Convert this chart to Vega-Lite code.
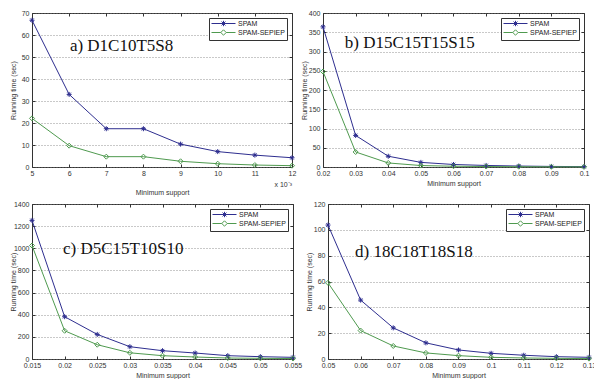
{
  "$schema": "https://vega.github.io/schema/vega-lite/v6.json",
  "padding": {"left": 8, "top": 8, "right": 0, "bottom": 0},
  "background": "white",
  "datasets": {
    "a": [
      {"x": 5, "y": 66.7, "s": "SPAM"}, {"x": 6, "y": 33, "s": "SPAM"}, {"x": 7, "y": 17.4, "s": "SPAM"}, {"x": 8, "y": 17.4, "s": "SPAM"},
      {"x": 9, "y": 10.4, "s": "SPAM"}, {"x": 10, "y": 7, "s": "SPAM"}, {"x": 11, "y": 5.4, "s": "SPAM"}, {"x": 12, "y": 4.2, "s": "SPAM"},
      {"x": 5, "y": 22.1, "s": "SPAM-SEPIEP"}, {"x": 6, "y": 9.7, "s": "SPAM-SEPIEP"}, {"x": 7, "y": 4.7, "s": "SPAM-SEPIEP"}, {"x": 8, "y": 4.7, "s": "SPAM-SEPIEP"},
      {"x": 9, "y": 2.6, "s": "SPAM-SEPIEP"}, {"x": 10, "y": 1.5, "s": "SPAM-SEPIEP"}, {"x": 11, "y": 0.9, "s": "SPAM-SEPIEP"}, {"x": 12, "y": 0.6, "s": "SPAM-SEPIEP"}
    ],
    "b": [
      {"x": 0.02, "y": 364, "s": "SPAM"}, {"x": 0.03, "y": 82, "s": "SPAM"}, {"x": 0.04, "y": 28, "s": "SPAM"}, {"x": 0.05, "y": 12, "s": "SPAM"},
      {"x": 0.06, "y": 6.5, "s": "SPAM"}, {"x": 0.07, "y": 4, "s": "SPAM"}, {"x": 0.08, "y": 2.5, "s": "SPAM"}, {"x": 0.09, "y": 1.5, "s": "SPAM"}, {"x": 0.1, "y": 1, "s": "SPAM"},
      {"x": 0.02, "y": 248, "s": "SPAM-SEPIEP"}, {"x": 0.03, "y": 39, "s": "SPAM-SEPIEP"}, {"x": 0.04, "y": 10.5, "s": "SPAM-SEPIEP"}, {"x": 0.05, "y": 3.8, "s": "SPAM-SEPIEP"},
      {"x": 0.06, "y": 2, "s": "SPAM-SEPIEP"}, {"x": 0.07, "y": 1.2, "s": "SPAM-SEPIEP"}, {"x": 0.08, "y": 0.8, "s": "SPAM-SEPIEP"}, {"x": 0.09, "y": 0.5, "s": "SPAM-SEPIEP"}, {"x": 0.1, "y": 0.4, "s": "SPAM-SEPIEP"}
    ],
    "c": [
      {"x": 0.015, "y": 1252, "s": "SPAM"}, {"x": 0.02, "y": 382, "s": "SPAM"}, {"x": 0.025, "y": 222, "s": "SPAM"}, {"x": 0.03, "y": 111, "s": "SPAM"},
      {"x": 0.035, "y": 75, "s": "SPAM"}, {"x": 0.04, "y": 54, "s": "SPAM"}, {"x": 0.045, "y": 30, "s": "SPAM"}, {"x": 0.05, "y": 21, "s": "SPAM"}, {"x": 0.055, "y": 15, "s": "SPAM"},
      {"x": 0.015, "y": 1025, "s": "SPAM-SEPIEP"}, {"x": 0.02, "y": 255, "s": "SPAM-SEPIEP"}, {"x": 0.025, "y": 129, "s": "SPAM-SEPIEP"}, {"x": 0.03, "y": 56, "s": "SPAM-SEPIEP"},
      {"x": 0.035, "y": 30, "s": "SPAM-SEPIEP"}, {"x": 0.04, "y": 18, "s": "SPAM-SEPIEP"}, {"x": 0.045, "y": 9, "s": "SPAM-SEPIEP"}, {"x": 0.05, "y": 6, "s": "SPAM-SEPIEP"}, {"x": 0.055, "y": 4, "s": "SPAM-SEPIEP"}
    ],
    "d": [
      {"x": 0.05, "y": 103.7, "s": "SPAM"}, {"x": 0.06, "y": 45.6, "s": "SPAM"}, {"x": 0.07, "y": 24.1, "s": "SPAM"}, {"x": 0.08, "y": 12.5, "s": "SPAM"},
      {"x": 0.09, "y": 7, "s": "SPAM"}, {"x": 0.1, "y": 4.4, "s": "SPAM"}, {"x": 0.11, "y": 2.9, "s": "SPAM"}, {"x": 0.12, "y": 1.8, "s": "SPAM"}, {"x": 0.13, "y": 1.3, "s": "SPAM"},
      {"x": 0.05, "y": 59, "s": "SPAM-SEPIEP"}, {"x": 0.06, "y": 22, "s": "SPAM-SEPIEP"}, {"x": 0.07, "y": 10.1, "s": "SPAM-SEPIEP"}, {"x": 0.08, "y": 4.7, "s": "SPAM-SEPIEP"},
      {"x": 0.09, "y": 2.6, "s": "SPAM-SEPIEP"}, {"x": 0.1, "y": 1.3, "s": "SPAM-SEPIEP"}, {"x": 0.11, "y": 0.8, "s": "SPAM-SEPIEP"}, {"x": 0.12, "y": 0.5, "s": "SPAM-SEPIEP"}, {"x": 0.13, "y": 0.3, "s": "SPAM-SEPIEP"}
    ]
  },
  "config": {
    "font": "Liberation Sans",
    "view": {"stroke": "#333", "strokeWidth": 1},
    "axis": {
      "labelFont": "Liberation Sans", "labelFontSize": 7, "labelColor": "#333",
      "titleFont": "Liberation Sans", "titleFontSize": 7, "titleFontWeight": "normal", "titleColor": "#333",
      "domain": false, "tickColor": "#333", "tickSize": -3, "tickWidth": 1,
      "gridColor": "#777", "gridDash": [1, 2], "gridWidth": 0.8
    },
    "axisX": {"grid": false, "labelPadding": 5, "titlePadding": 3, "labelFlush": false},
    "axisY": {"grid": true, "labelPadding": 6, "minExtent": 14, "maxExtent": 14, "titlePadding": 2},
    "legend": {
      "orient": "top-right", "offset": 5, "fillColor": "white", "strokeColor": "#333",
      "padding": 2, "rowPadding": -5, "labelFont": "Liberation Sans", "labelFontSize": 7, "labelColor": "#222",
      "symbolSize": 36, "symbolStrokeWidth": 1, "symbolOffset": 9, "labelOffset": 11, "title": null
    }
  },
  "spacing": 3,
  "resolve": {"scale": {"color": "independent"}, "legend": {"color": "independent"}},
  "vconcat": [
    {
      "spacing": 2,
      "resolve": {"scale": {"color": "independent"}, "legend": {"color": "independent"}},
      "hconcat": [
        {
          "width": 260, "height": 154,
          "data": {"name": "a"},
          "resolve": {"axis": {"x": "independent", "y": "independent"}},
          "layer": [
            {
              "mark": {"type": "line", "strokeWidth": 1},
              "encoding": {
                "x": {"field": "x", "type": "quantitative", "scale": {"domain": [5, 12], "nice": false}, "axis": {"values": [5, 6, 7, 8, 9, 10, 11, 12], "title": "Minimum support", "titlePadding": 12}},
                "y": {"field": "y", "type": "quantitative", "scale": {"domain": [0, 70], "nice": false}, "axis": {"values": [0, 10, 20, 30, 40, 50, 60, 70], "title": "Running time (sec)"}},
                "color": {"field": "s", "type": "nominal", "scale": {"domain": ["SPAM", "SPAM-SEPIEP"], "range": ["#2e2e8f", "#4f9a4f"]},
                  "legend": {"encode": {"symbols": {"update": {"shape": {"signal": "datum.value === 'SPAM' ? 'M-4,0H4M0,-0.9V0.9M-0.65,-0.65L0.65,0.65M-0.65,0.65L0.65,-0.65' : 'M-4,0H-0.9M0.9,0H4M-0.9,0L0,-0.9L0.9,0L0,0.9Z'"}, "fill": {"value": "transparent"}}}}}}
              }
            },
            {
              "transform": [{"filter": "datum.s === 'SPAM'"}],
              "mark": {"type": "point", "shape": "M-1,0H1M0,-1V1M-0.7,-0.7L0.7,0.7M-0.7,0.7L0.7,-0.7", "filled": false, "size": 25, "strokeWidth": 1, "opacity": 1},
              "encoding": {
                "x": {"field": "x", "type": "quantitative", "axis": {"orient": "top", "labels": false, "title": null, "grid": false, "values": [5, 6, 7, 8, 9, 10, 11, 12]}},
                "y": {"field": "y", "type": "quantitative", "axis": {"orient": "right", "labels": false, "title": null, "grid": false, "minExtent": 0, "maxExtent": 0, "values": [0, 10, 20, 30, 40, 50, 60, 70]}},
                "color": {"field": "s", "type": "nominal"}
              }
            },
            {
              "transform": [{"filter": "datum.s === 'SPAM-SEPIEP'"}],
              "mark": {"type": "point", "shape": "diamond", "filled": false, "size": 25, "strokeWidth": 1, "opacity": 1},
              "encoding": {
                "x": {"field": "x", "type": "quantitative", "axis": null},
                "y": {"field": "y", "type": "quantitative", "axis": null},
                "color": {"field": "s", "type": "nominal"}
              }
            },
            {
              "data": {"values": [{"label": "a) D1C10T5S8"}]},
              "mark": {"type": "text", "font": "Liberation Serif", "fontSize": 17, "align": "left", "baseline": "alphabetic", "color": "#111"},
              "encoding": {"x": {"datum": 6.02, "axis": null}, "y": {"datum": 52.7, "axis": null}, "text": {"field": "label"}}
            },
            {
              "data": {"values": [{"label": "x 10⁻³"}]},
              "mark": {"type": "text", "fontSize": 7, "align": "right", "baseline": "alphabetic", "color": "#333"},
              "encoding": {"x": {"datum": 12, "axis": null}, "y": {"datum": -9.1, "axis": null}, "text": {"field": "label"}}
            }
          ]
        },
        {
          "width": 261, "height": 154,
          "data": {"name": "b"},
          "resolve": {"axis": {"x": "independent", "y": "independent"}},
          "layer": [
            {
              "mark": {"type": "line", "strokeWidth": 1},
              "encoding": {
                "x": {"field": "x", "type": "quantitative", "scale": {"domain": [0.02, 0.1], "nice": false}, "axis": {"values": [0.02, 0.03, 0.04, 0.05, 0.06, 0.07, 0.08, 0.09, 0.1], "format": "~g", "title": "Minimum support"}},
                "y": {"field": "y", "type": "quantitative", "scale": {"domain": [0, 400], "nice": false}, "axis": {"values": [0, 50, 100, 150, 200, 250, 300, 350, 400], "title": "Running time (sec)"}},
                "color": {"field": "s", "type": "nominal", "scale": {"domain": ["SPAM", "SPAM-SEPIEP"], "range": ["#2e2e8f", "#4f9a4f"]},
                  "legend": {"encode": {"symbols": {"update": {"shape": {"signal": "datum.value === 'SPAM' ? 'M-4,0H4M0,-0.9V0.9M-0.65,-0.65L0.65,0.65M-0.65,0.65L0.65,-0.65' : 'M-4,0H-0.9M0.9,0H4M-0.9,0L0,-0.9L0.9,0L0,0.9Z'"}, "fill": {"value": "transparent"}}}}}}
              }
            },
            {
              "transform": [{"filter": "datum.s === 'SPAM'"}],
              "mark": {"type": "point", "shape": "M-1,0H1M0,-1V1M-0.7,-0.7L0.7,0.7M-0.7,0.7L0.7,-0.7", "filled": false, "size": 25, "strokeWidth": 1, "opacity": 1},
              "encoding": {
                "x": {"field": "x", "type": "quantitative", "axis": {"orient": "top", "labels": false, "title": null, "grid": false, "values": [0.02, 0.03, 0.04, 0.05, 0.06, 0.07, 0.08, 0.09, 0.1]}},
                "y": {"field": "y", "type": "quantitative", "axis": {"orient": "right", "labels": false, "title": null, "grid": false, "minExtent": 0, "maxExtent": 0, "values": [0, 50, 100, 150, 200, 250, 300, 350, 400]}},
                "color": {"field": "s", "type": "nominal"}
              }
            },
            {
              "transform": [{"filter": "datum.s === 'SPAM-SEPIEP'"}],
              "mark": {"type": "point", "shape": "diamond", "filled": false, "size": 25, "strokeWidth": 1, "opacity": 1},
              "encoding": {
                "x": {"field": "x", "type": "quantitative", "axis": null},
                "y": {"field": "y", "type": "quantitative", "axis": null},
                "color": {"field": "s", "type": "nominal"}
              }
            },
            {
              "data": {"values": [{"label": "b) D15C15T15S15"}]},
              "mark": {"type": "text", "font": "Liberation Serif", "fontSize": 17, "align": "left", "baseline": "alphabetic", "color": "#111"},
              "encoding": {"x": {"datum": 0.0267, "axis": null}, "y": {"datum": 308, "axis": null}, "text": {"field": "label"}}
            }
          ]
        }
      ]
    },
    {
      "spacing": 1,
      "resolve": {"scale": {"color": "independent"}, "legend": {"color": "independent"}},
      "hconcat": [
        {
          "width": 261, "height": 155,
          "data": {"name": "c"},
          "resolve": {"axis": {"x": "independent", "y": "independent"}},
          "layer": [
            {
              "mark": {"type": "line", "strokeWidth": 1},
              "encoding": {
                "x": {"field": "x", "type": "quantitative", "scale": {"domain": [0.015, 0.055], "nice": false}, "axis": {"values": [0.015, 0.02, 0.025, 0.03, 0.035, 0.04, 0.045, 0.05, 0.055], "format": "~g", "title": "Minimum support"}},
                "y": {"field": "y", "type": "quantitative", "scale": {"domain": [0, 1400], "nice": false}, "axis": {"values": [0, 200, 400, 600, 800, 1000, 1200, 1400], "format": "d", "title": "Running time (sec)"}},
                "color": {"field": "s", "type": "nominal", "scale": {"domain": ["SPAM", "SPAM-SEPIEP"], "range": ["#2e2e8f", "#4f9a4f"]},
                  "legend": {"encode": {"symbols": {"update": {"shape": {"signal": "datum.value === 'SPAM' ? 'M-4,0H4M0,-0.9V0.9M-0.65,-0.65L0.65,0.65M-0.65,0.65L0.65,-0.65' : 'M-4,0H-0.9M0.9,0H4M-0.9,0L0,-0.9L0.9,0L0,0.9Z'"}, "fill": {"value": "transparent"}}}}}}
              }
            },
            {
              "transform": [{"filter": "datum.s === 'SPAM'"}],
              "mark": {"type": "point", "shape": "M-1,0H1M0,-1V1M-0.7,-0.7L0.7,0.7M-0.7,0.7L0.7,-0.7", "filled": false, "size": 25, "strokeWidth": 1, "opacity": 1},
              "encoding": {
                "x": {"field": "x", "type": "quantitative", "axis": {"orient": "top", "labels": false, "title": null, "grid": false, "values": [0.015, 0.02, 0.025, 0.03, 0.035, 0.04, 0.045, 0.05, 0.055]}},
                "y": {"field": "y", "type": "quantitative", "axis": {"orient": "right", "labels": false, "title": null, "grid": false, "minExtent": 0, "maxExtent": 0, "values": [0, 200, 400, 600, 800, 1000, 1200, 1400]}},
                "color": {"field": "s", "type": "nominal"}
              }
            },
            {
              "transform": [{"filter": "datum.s === 'SPAM-SEPIEP'"}],
              "mark": {"type": "point", "shape": "diamond", "filled": false, "size": 25, "strokeWidth": 1, "opacity": 1},
              "encoding": {
                "x": {"field": "x", "type": "quantitative", "axis": null},
                "y": {"field": "y", "type": "quantitative", "axis": null},
                "color": {"field": "s", "type": "nominal"}
              }
            },
            {
              "data": {"values": [{"label": "c) D5C15T10S10"}]},
              "mark": {"type": "text", "font": "Liberation Serif", "fontSize": 17, "align": "left", "baseline": "alphabetic", "color": "#111"},
              "encoding": {"x": {"datum": 0.01975, "axis": null}, "y": {"datum": 948, "axis": null}, "text": {"field": "label"}}
            }
          ]
        },
        {
          "width": 261, "height": 155,
          "data": {"name": "d"},
          "resolve": {"axis": {"x": "independent", "y": "independent"}},
          "layer": [
            {
              "mark": {"type": "line", "strokeWidth": 1},
              "encoding": {
                "x": {"field": "x", "type": "quantitative", "scale": {"domain": [0.05, 0.13], "nice": false}, "axis": {"values": [0.05, 0.06, 0.07, 0.08, 0.09, 0.1, 0.11, 0.12, 0.13], "format": "~g", "title": "Minimum support"}},
                "y": {"field": "y", "type": "quantitative", "scale": {"domain": [0, 120], "nice": false}, "axis": {"values": [0, 20, 40, 60, 80, 100, 120], "title": "Running time (sec)"}},
                "color": {"field": "s", "type": "nominal", "scale": {"domain": ["SPAM", "SPAM-SEPIEP"], "range": ["#2e2e8f", "#4f9a4f"]},
                  "legend": {"encode": {"symbols": {"update": {"shape": {"signal": "datum.value === 'SPAM' ? 'M-4,0H4M0,-0.9V0.9M-0.65,-0.65L0.65,0.65M-0.65,0.65L0.65,-0.65' : 'M-4,0H-0.9M0.9,0H4M-0.9,0L0,-0.9L0.9,0L0,0.9Z'"}, "fill": {"value": "transparent"}}}}}}
              }
            },
            {
              "transform": [{"filter": "datum.s === 'SPAM'"}],
              "mark": {"type": "point", "shape": "M-1,0H1M0,-1V1M-0.7,-0.7L0.7,0.7M-0.7,0.7L0.7,-0.7", "filled": false, "size": 25, "strokeWidth": 1, "opacity": 1},
              "encoding": {
                "x": {"field": "x", "type": "quantitative", "axis": {"orient": "top", "labels": false, "title": null, "grid": false, "values": [0.05, 0.06, 0.07, 0.08, 0.09, 0.1, 0.11, 0.12, 0.13]}},
                "y": {"field": "y", "type": "quantitative", "axis": {"orient": "right", "labels": false, "title": null, "grid": false, "minExtent": 0, "maxExtent": 0, "values": [0, 20, 40, 60, 80, 100, 120]}},
                "color": {"field": "s", "type": "nominal"}
              }
            },
            {
              "transform": [{"filter": "datum.s === 'SPAM-SEPIEP'"}],
              "mark": {"type": "point", "shape": "diamond", "filled": false, "size": 25, "strokeWidth": 1, "opacity": 1},
              "encoding": {
                "x": {"field": "x", "type": "quantitative", "axis": null},
                "y": {"field": "y", "type": "quantitative", "axis": null},
                "color": {"field": "s", "type": "nominal"}
              }
            },
            {
              "data": {"values": [{"label": "d) 18C18T18S18"}]},
              "mark": {"type": "text", "font": "Liberation Serif", "fontSize": 17, "align": "left", "baseline": "alphabetic", "color": "#111"},
              "encoding": {"x": {"datum": 0.0583, "axis": null}, "y": {"datum": 78.7, "axis": null}, "text": {"field": "label"}}
            }
          ]
        }
      ]
    }
  ]
}
